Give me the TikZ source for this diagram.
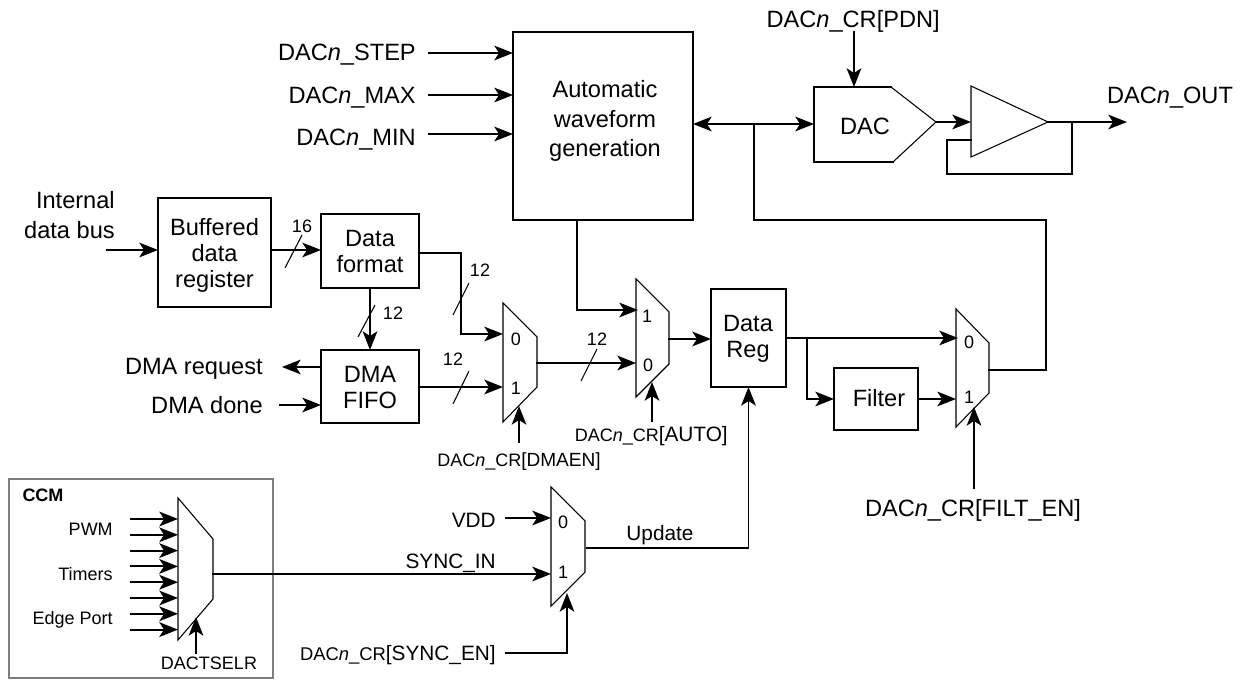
\documentclass[tikz,border=0pt]{standalone}
\usepackage{fontspec}
\setmainfont{Liberation Sans}
\usetikzlibrary{arrows.meta,calc}
\definecolor{ccmgray}{RGB}{125,125,125}
\newcommand{\bigtxt}{\fontsize{17.7}{19.5}\selectfont}
\newcommand{\widetxt}{\fontsize{17.7}{22}\selectfont}
\newcommand{\midtxt}{\fontsize{15.6}{18}\selectfont}
\newcommand{\smalltxt}{\fontsize{13.5}{16}\selectfont}
\newcommand{\dacn}{DAC\textit{n}\_}
\tikzset{
  blockbox/.style={rectangle, draw=black, line width=1.4pt, inner sep=0pt, outer sep=0pt},
  blocktxt/.style={inner sep=0pt, align=center, font=\bigtxt},
  biglabel/.style={inner sep=0pt, align=right, font=\bigtxt},
  midlabel/.style={inner sep=0pt, font=\midtxt},
  smalllabel/.style={inner sep=0pt, font=\smalltxt},
  wire/.style={line width=1.4pt, line cap=rect, line join=miter},
  sig/.style={wire, -{Stealth[length=14pt,width=11pt,inset=3.5pt]}},
  bidir/.style={wire, {Stealth[length=14pt,width=11pt,inset=3.5pt]}-{Stealth[length=14pt,width=11pt,inset=3.5pt]}},
  muxline/.style={line width=0.8pt, line join=miter},
  buswidth/.style={line width=0.8pt},
}
% name, left x, top, bottom, right x, right top, right bottom
\newcommand{\muxshape}[7]{%
  \coordinate (#1NW) at (#2,#3);
  \coordinate (#1SW) at (#2,#4);
  \coordinate (#1NE) at (#5,#6);
  \coordinate (#1SE) at (#5,#7);
  \draw[muxline] (#1NW) -- (#1NE) -- (#1SE) -- (#1SW) -- cycle;
}
\begin{document}
\begin{tikzpicture}[x=0.75pt,y=-0.75pt]
  \useasboundingbox (0,0) rectangle (1243,680);
  % blocks
  \node[blockbox, minimum width=84.75pt, minimum height=81.75pt] (bufreg) at (214.5,252.5) {};
  \node[blocktxt] (bufregtxt) at (214.5,255.5) {Buffered\\data\\register};
  \node[blockbox, minimum width=73.5pt, minimum height=55.5pt] (datafmt) at (370,251) {};
  \node[blocktxt] (datafmttxt) at (370,252) {Data\\format};
  \node[blockbox, minimum width=73.5pt, minimum height=54.75pt] (dmafifo) at (370,386.5) {};
  \node[blocktxt] (dmafifotxt) at (370,387.5) {DMA\\FIFO};
  \node[blockbox, minimum width=135pt, minimum height=141pt] (autowave) at (603,126) {};
  \node[blocktxt, font=\widetxt] (autotxt) at (605,121) {Automatic\\waveform\\generation};
  \node[blockbox, minimum width=56.25pt, minimum height=73.5pt] (datareg) at (748.5,338) {};
  \node[blocktxt] (dataregtxt) at (748,339) {Data\\Reg};
  \node[blockbox, minimum width=63pt, minimum height=46.5pt] (filter) at (876,399) {};
  \node[blocktxt] (filtertxt) at (879,398) {Filter};
  \node[draw=ccmgray, line width=1.4pt, inner sep=0pt, minimum width=198pt, minimum height=149.25pt] (ccm) at (141,578.5) {};
  \node[inner sep=0pt, font=\smalltxt\bfseries] (ccmtxt) at (43,495) {CCM};
  % muxes
  \muxshape{mdma}{503}{303}{422}{537}{337}{387}
  \muxshape{mauto}{636}{279}{397}{669}{312}{364}
  \muxshape{mfilt}{956}{309}{427}{989}{343}{393}
  \muxshape{msync}{551}{487}{606}{585}{521}{572}
  \muxshape{mccm}{178}{498}{640}{213}{539}{599}
  \node[smalllabel] (dma0) at (516,339) {0};
  \node[smalllabel] (dma1) at (516,388) {1};
  \node[smalllabel] (auto1) at (647,316) {1};
  \node[smalllabel] (auto0) at (648,365) {0};
  \node[smalllabel] (filt0) at (969,342) {0};
  \node[smalllabel] (filt1) at (969,397) {1};
  \node[smalllabel] (sync0) at (563,522) {0};
  \node[smalllabel] (sync1) at (563,572) {1};
  % DAC and buffer
  \coordinate (dacNW) at (814,87);
  \coordinate (dacSW) at (814,162);
  \coordinate (dacNE) at (891,87);
  \coordinate (dacSE) at (893,162);
  \coordinate (dactip) at (936,122);
  \draw[wire] (dacSW) -- (dacNW) -- (dacNE);
  \draw[wire] (dacSW) -- (dacSE);
  \draw[muxline] (dacNE) -- (dactip) -- (dacSE);
  \node[biglabel] (dactxt) at (865,126) {DAC};
  \coordinate (ampNW) at (971,86);
  \coordinate (ampSW) at (971,157);
  \coordinate (amptip) at (1048,122);
  \draw[muxline] (ampNW) -- (amptip) -- (ampSW) -- cycle;
  % top inputs
  \node[biglabel, anchor=east] (stepl) at (416,55) {\dacn STEP};
  \node[biglabel, anchor=east] (maxl) at (416,98) {\dacn MAX};
  \node[biglabel, anchor=east] (minl) at (416,140) {\dacn MIN};
  \coordinate (stepin) at (429,53);
  \coordinate (maxin) at (429,95);
  \coordinate (minin) at (429,134);
  \draw[sig] (stepin) -- (stepin -| autowave.west);
  \draw[sig] (maxin) -- (maxin -| autowave.west);
  \draw[sig] (minin) -- (minin -| autowave.west);
  % bidirectional line, DAC and output
  \coordinate (bustap) at (754,124);
  \draw[bidir] (autowave.east |- bustap) -- (dacNW |- bustap);
  \node[biglabel, anchor=east] (pdnl) at (940,21) {\dacn CR[PDN]};
  \coordinate (pdnin) at (854,32);
  \draw[sig] (pdnin) -- (pdnin |- dacNW);
  \draw[sig] (dactip) -- (ampNW |- dactip);
  \coordinate (outend) at (1127,122);
  \draw[sig] (amptip) -- (outend);
  \node[biglabel] (outl) at (1170,98) {\dacn OUT};
  \coordinate (fbtap) at (1072,122);
  \coordinate (fbin) at (971,140);
  \draw[wire] (fbtap) -- (1072,174) -| (947,140) -- (fbin);
  % input side
  \node[biglabel, anchor=east, font=\widetxt] (busl) at (115,215) {Internal\\data bus};
  \coordinate (busin) at (107,250);
  \draw[sig] (busin) -- (busin -| bufreg.west);
  \draw[sig] (bufreg.east |- busin) -- (datafmt.west |- busin);
  \draw[buswidth] (302,235) -- (285,268);
  \node[smalllabel] (w16) at (302,226) {16};
  \draw[sig] (datafmt) -- (dmafifo);
  \draw[buswidth] (375,305) -- (358,337);
  \node[smalllabel] (w12a) at (393,313) {12};
  \node[biglabel, anchor=east] (reql) at (263,369) {DMA request};
  \node[biglabel, anchor=east] (donel) at (263,405) {DMA done};
  \coordinate (reqend) at (282,367);
  \coordinate (donein) at (280,405);
  \draw[sig] (dmafifo.west |- reqend) -- (reqend);
  \draw[sig] (donein) -- (donein -| dmafifo.west);
  % data path
  \coordinate (fmtout) at (419,253);
  \coordinate (dma0in) at (503,334);
  \draw[sig] (fmtout) -| (461,334) -- (dma0in);
  \draw[buswidth] (469,283) -- (453,315);
  \node[smalllabel] (w12b) at (480,270) {12};
  \coordinate (dma1in) at (503,387);
  \draw[sig] (dmafifo.east |- dma1in) -- (dma1in);
  \draw[buswidth] (469,371) -- (453,404);
  \node[smalllabel] (w12c) at (453,359) {12};
  \coordinate (dmaout) at (537,363);
  \coordinate (auto0in) at (636,363);
  \draw[sig] (dmaout) -- (auto0in);
  \draw[buswidth] (597,349) -- (581,381);
  \node[smalllabel] (w12d) at (597,339) {12};
  \coordinate (autoout) at (577,220);
  \coordinate (auto1in) at (638,310);
  \draw[sig] (autoout) |- (auto1in);
  \coordinate (muxaout) at (669,339);
  \draw[sig] (muxaout) -- (datareg.west |- muxaout);
  \coordinate (filt0in) at (958,338);
  \draw[sig] (datareg.east |- filt0in) -- (filt0in);
  \coordinate (regtap) at (807,338);
  \draw[sig] (regtap) |- (filter.west);
  \coordinate (filt1in) at (956,399);
  \draw[sig] (filter.east) -- (filt1in);
  \coordinate (filtout) at (989,370);
  \draw[wire] (filtout) -| (1046,220) -| (bustap);
  % selects
  \coordinate (dmaensel) at (519,442);
  \draw[sig] (dmaensel) -- (519,406);
  \node[smalllabel, anchor=east] (dmaenl) at (601,462) {\dacn CR{\fontsize{14.3}{16}\selectfont[DMAEN]}};
  \coordinate (autosel) at (652,421);
  \draw[sig] (autosel) -- (652,382);
  \node[smalllabel, anchor=east] (autol) at (728,436) {\dacn CR{\midtxt[AUTO]}};
  \coordinate (filtsel) at (974,488);
  \draw[sig] (filtsel) -- (974,407);
  \node[biglabel] (filtl) at (973,510) {\dacn CR[FILT\_EN]};
  % sync path
  \node[midlabel, anchor=east] (vddl) at (496,520) {VDD};
  \coordinate (vddin) at (506,518);
  \draw[sig] (vddin) -- (vddin -| msyncNW);
  \node[midlabel, anchor=east] (syncl) at (496,563) {SYNC\_IN};
  \coordinate (ccmout) at (213,574);
  \draw[sig] (ccmout) -- (ccmout -| msyncNW);
  \coordinate (syncout) at (587,548);
  \draw[sig] (syncout) -| (datareg.south);
  \node[midlabel] (updl) at (660,535) {Update};
  \node[smalllabel, anchor=east] (syncenl) at (496,655) {\fontsize{13.8}{16}\selectfont\dacn CR{\midtxt[SYNC\_EN]}};
  \coordinate (syncensel) at (506,653);
  \draw[sig] (syncensel) -| (567,593);
  % CCM inputs
  \foreach \i in {0,...,7} {
    \coordinate (ccmin\i) at (131,{519+15.8*\i});
    \draw[sig] (ccmin\i) -- (ccmin\i -| mccmNW);
  }
  \node[smalllabel, anchor=east] (pwml) at (113,529) {PWM};
  \node[smalllabel, anchor=east] (timl) at (113,574) {Timers};
  \node[smalllabel, anchor=east] (edgl) at (113,620) {Edge Port};
  \coordinate (tselin) at (196,653);
  \draw[sig] (tselin) -- (196,617);
  \node[smalllabel] (tsell) at (209,663) {DACTSELR};
\end{tikzpicture}
\end{document}
